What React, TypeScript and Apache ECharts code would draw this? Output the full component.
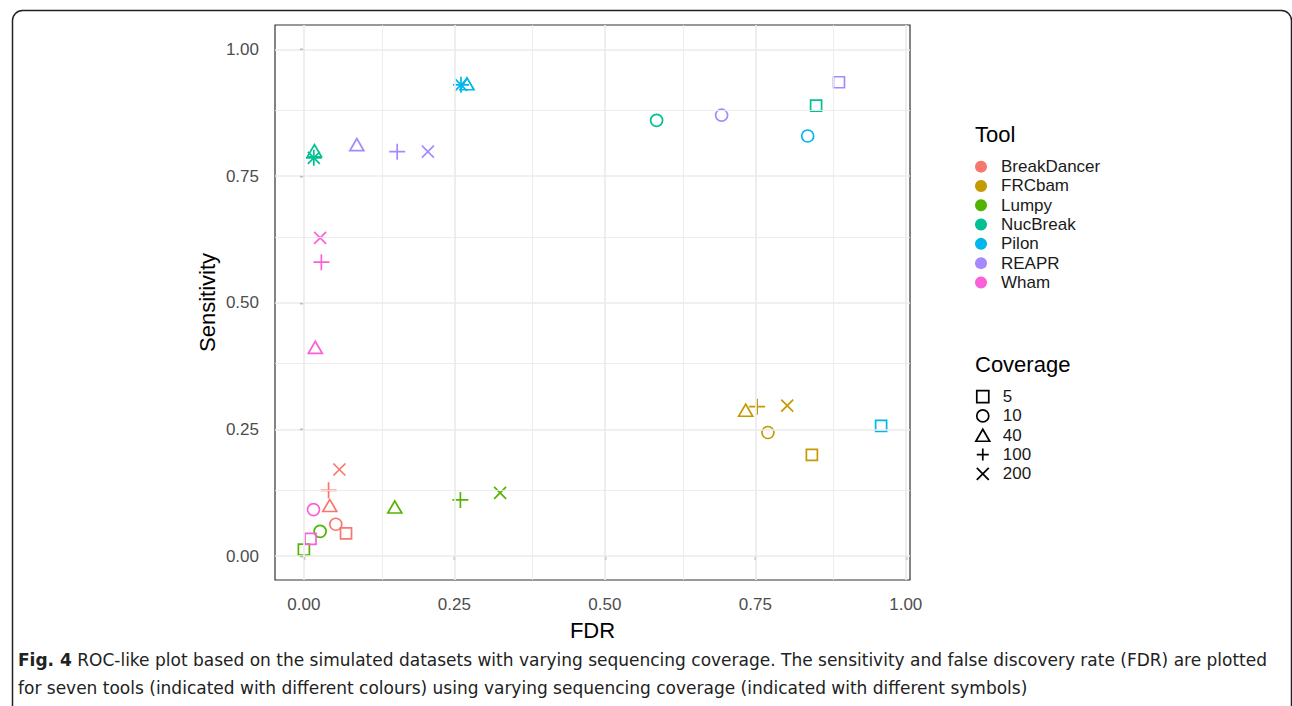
import React, { useEffect, useRef } from "react";
import * as echarts from "echarts";

const TOOLS = ["BreakDancer", "FRCbam", "Lumpy", "NucBreak", "Pilon", "REAPR", "Wham"];
const TOOL_COLORS = ["#F8766D", "#C49A00", "#53B400", "#00C094", "#00B6EB", "#A58AFF", "#FB61D7"];
const COVERAGE = ["5", "10", "40", "100", "200"];

// values ordered by coverage: 5, 10, 40, 100, 200
const breakDancerFDR = [0.07, 0.053, 0.043, 0.041, 0.059];
const breakDancerSens = [0.045, 0.063, 0.1, 0.13, 0.171];
const frcbamFDR = [0.844, 0.771, 0.734, 0.753, 0.803];
const frcbamSens = [0.2, 0.244, 0.288, 0.295, 0.297];
const lumpyFDR = [0.0, 0.027, 0.151, 0.26, 0.326];
const lumpySens = [0.013, 0.049, 0.097, 0.111, 0.125];
const nucBreakFDR = [0.851, 0.586, 0.0175, 0.0165, 0.0165];
const nucBreakSens = [0.889, 0.86, 0.8, 0.786, 0.786];
const pilonFDR = [0.959, 0.837, 0.271, 0.261, 0.261];
const pilonSens = [0.257, 0.829, 0.932, 0.93, 0.93];
const reaprFDR = [0.889, 0.694, 0.088, 0.155, 0.206];
const reaprSens = [0.935, 0.87, 0.812, 0.798, 0.798];
const whamFDR = [0.011, 0.016, 0.019, 0.029, 0.027];
const whamSens = [0.034, 0.092, 0.412, 0.58, 0.628];

const TOOL_FDR = [breakDancerFDR, frcbamFDR, lumpyFDR, nucBreakFDR, pilonFDR, reaprFDR, whamFDR];
const TOOL_SENS = [breakDancerSens, frcbamSens, lumpySens, nucBreakSens, pilonSens, reaprSens, whamSens];

const X_TICKS = [0, 0.25, 0.5, 0.75, 1];
const Y_TICKS = [0, 0.25, 0.5, 0.75, 1];
const X_MINOR = [0.125, 0.375, 0.625, 0.875];
const Y_MINOR = [0.125, 0.375, 0.625, 0.875];

const CAPTION_1 = " ROC-like plot based on the simulated datasets with varying sequencing coverage. The sensitivity and false discovery rate (FDR) are plotted";
const CAPTION_2 = "for seven tools (indicated with different colours) using varying sequencing coverage (indicated with different symbols)";

const SYMBOLS = [
  "path://M0,0L10,0L10,10L0,10Z",
  "path://M5,0A5,5,0,1,1,5,10A5,5,0,1,1,5,0Z",
  "path://M5,0L10,8.66L0,8.66Z",
  "path://M5,0L5,10M0,5L10,5",
  "path://M0,0L10,10M0,10L10,0",
];
const SYMBOL_SIZES: any[] = [11, 12, [14, 12], 16, 12];

const FONT = "Liberation Sans";
const CAP_FONT = "DejaVu Sans";

export default function App() {
  const ref = useRef<HTMLDivElement>(null);
  useEffect(() => {
    if (!ref.current) return;
    const chart = echarts.init(ref.current, null, { renderer: "svg" });

    const gridLines: any[] = [];
    X_TICKS.forEach((v) => gridLines.push({ xAxis: v, lineStyle: { width: 1.7, color: "#EBEBEB" } }));
    Y_TICKS.forEach((v) => gridLines.push({ yAxis: v, lineStyle: { width: 1.7, color: "#EBEBEB" } }));
    X_MINOR.forEach((v) => gridLines.push({ xAxis: v, lineStyle: { width: 0.9, color: "#EBEBEB" } }));
    Y_MINOR.forEach((v) => gridLines.push({ yAxis: v, lineStyle: { width: 0.9, color: "#EBEBEB" } }));

    const toolSeries = TOOLS.map((name, t) => ({
      name,
      type: "scatter",
      z: 3,
      itemStyle: { color: "rgba(0,0,0,0)", borderColor: TOOL_COLORS[t], borderWidth: 1.7, opacity: 1 },
      data: TOOL_FDR[t].map((x, i) => ({
        value: [x, TOOL_SENS[t][i]],
        symbol: SYMBOLS[i],
        symbolSize: SYMBOL_SIZES[i],
      })),
    }));

    const coverageSeries = COVERAGE.map((name, i) => ({
      name,
      type: "scatter",
      symbol: SYMBOLS[i],
      itemStyle: { color: "rgba(0,0,0,0)", borderColor: "#000", borderWidth: 1.7, opacity: 1 },
      data: [],
    }));

    const axisCommon = {
      type: "value",
      axisLine: { show: false },
      axisTick: { show: true, length: 4, lineStyle: { color: "#333333", width: 1.3 } },
      splitLine: { show: false },
      nameLocation: "middle",
      nameTextStyle: { fontFamily: FONT, fontSize: 22, color: "#000" },
    };

    const legendText = { fontFamily: FONT, fontSize: 17, color: "#1A1A1A", lineHeight: 19.3 };

    chart.setOption({
      animation: false,
      backgroundColor: "#fff",
      textStyle: { fontFamily: FONT },
      grid: {
        left: 275,
        top: 25,
        right: 382,
        bottom: 126,
        show: true,
        borderColor: "#333333",
        borderWidth: 1.2,
        backgroundColor: "#fff",
      },
      xAxis: {
        ...axisCommon,
        min: -0.048,
        max: 1.007,
        name: "FDR",
        nameGap: 39,
        axisTick: { ...axisCommon.axisTick, customValues: X_TICKS },
        axisLabel: {
          customValues: X_TICKS,
          formatter: (v: number) => v.toFixed(2),
          fontFamily: FONT,
          fontSize: 17,
          color: "#4D4D4D",
          margin: 16,
        },
      },
      yAxis: {
        ...axisCommon,
        min: -0.047,
        max: 1.048,
        name: "Sensitivity",
        nameGap: 57,
        axisTick: { ...axisCommon.axisTick, customValues: Y_TICKS },
        axisLabel: {
          customValues: Y_TICKS,
          formatter: (v: number) => v.toFixed(2),
          fontFamily: FONT,
          fontSize: 17,
          color: "#4D4D4D",
          margin: 16,
        },
      },
      legend: [
        {
          orient: "vertical",
          left: 970,
          top: 152,
          itemWidth: 30,
          itemHeight: 12,
          itemGap: 0,
          textStyle: legendText,
          selectedMode: false,
          data: TOOLS.map((name, t) => ({
            name,
            icon: "circle",
            itemStyle: { color: TOOL_COLORS[t], borderWidth: 0, opacity: 1 },
          })),
        },
        {
          orient: "vertical",
          left: 970,
          top: 382,
          itemWidth: 30,
          itemHeight: 12,
          itemGap: 0,
          textStyle: legendText,
          selectedMode: false,
          data: COVERAGE.map((name, i) => ({
            name,
            icon: SYMBOLS[i],
            itemStyle: { color: "rgba(0,0,0,0)", borderColor: "#000", borderWidth: 1.7, opacity: 1 },
          })),
        },
      ],
      graphic: [
        {
          type: "rect",
          left: 10,
          top: 8,
          shape: { width: 1279, height: 720, r: [10, 10, 0, 0] },
          style: { fill: "none", stroke: "#222", lineWidth: 1.5 },
          silent: true,
          z: -10,
        },
        {
          type: "text",
          left: 975,
          top: 123,
          style: { text: "Tool", font: `22px "${FONT}"`, fill: "#000" },
        },
        {
          type: "text",
          left: 975,
          top: 353,
          style: { text: "Coverage", font: `22px "${FONT}"`, fill: "#000" },
        },
        {
          type: "text",
          left: 18,
          top: 651,
          style: {
            text: "{b|Fig. 4}" + CAPTION_1,
            font: `17px "${CAP_FONT}"`,
            fill: "#222",
            rich: { b: { fontWeight: "bold", fontFamily: CAP_FONT, fontSize: 17, fill: "#222" } },
          },
        },
        {
          type: "text",
          left: 18,
          top: 679,
          style: { text: CAPTION_2, font: `17px "${CAP_FONT}"`, fill: "#222" },
        },
      ],
      series: [
        {
          type: "scatter",
          name: "__grid",
          z: 1,
          data: [],
          silent: true,
          markLine: {
            silent: true,
            symbol: ["none", "none"],
            label: { show: false },
            lineStyle: { type: "solid" },
            data: gridLines,
          },
        },
        ...toolSeries,
        ...coverageSeries,
      ],
    });

    return () => chart.dispose();
  }, []);

  return (
    <div
      ref={ref}
      style={{ position: "fixed", left: 0, top: 0, width: 1292, height: 706, background: "#fff" }}
    />
  );
}
